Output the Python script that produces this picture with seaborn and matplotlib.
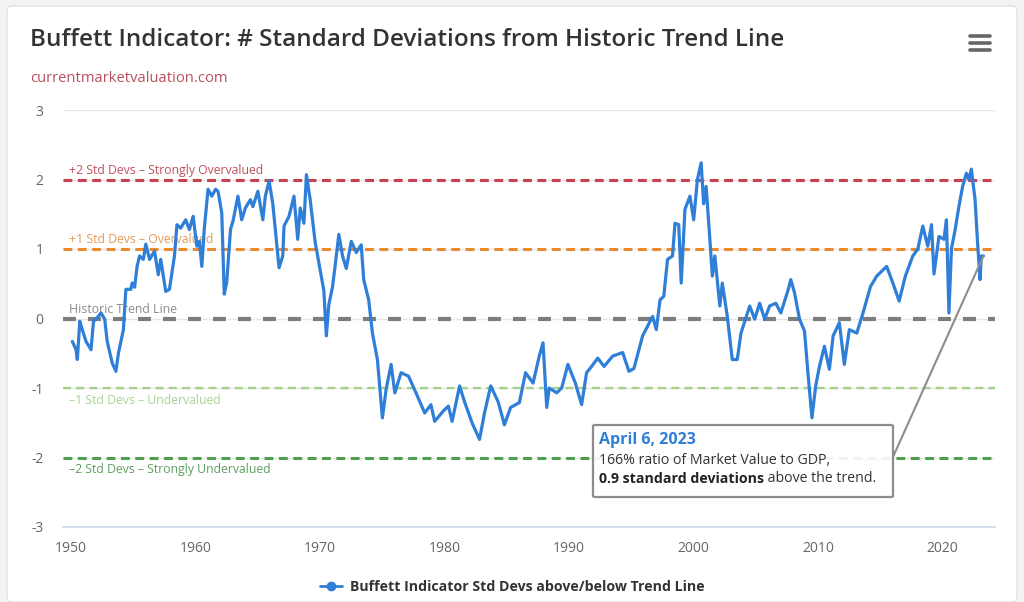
import numpy as np
import pandas as pd
import matplotlib
matplotlib.use("Agg")
import matplotlib.pyplot as plt
import seaborn as sns
from matplotlib.lines import Line2D
from matplotlib.patches import FancyBboxPatch

# values (year, std devs from trend)
years = [
    1950.1, 1950.4, 1950.5, 1950.7, 1950.9, 1951.2, 1951.6, 1951.8, 1952.0, 1952.4,
    1952.7, 1952.9, 1953.3, 1953.6, 1953.8, 1954.2, 1954.4, 1954.8, 1954.9, 1955.1,
    1955.3, 1955.5, 1955.8, 1956.0, 1956.3, 1956.7, 1957.0, 1957.2, 1957.6, 1957.9,
    1958.3, 1958.5, 1958.8, 1959.2, 1959.5, 1959.8, 1960.1, 1960.3, 1960.5, 1960.7,
    1961.0, 1961.3, 1961.6, 1961.8, 1962.1, 1962.3, 1962.5, 1962.8, 1963.0, 1963.4,
    1963.7, 1964.0, 1964.4, 1964.6, 1965.0, 1965.4, 1965.6, 1965.9, 1966.2, 1966.4,
    1966.7, 1967.0, 1967.1, 1967.5, 1967.9, 1968.2, 1968.4, 1968.7, 1968.9, 1969.2,
    1969.6, 1970.0, 1970.3, 1970.5, 1970.7, 1971.0, 1971.3, 1971.5, 1971.8, 1972.1,
    1972.5, 1972.9, 1973.3, 1973.5, 1973.9, 1974.2, 1974.6, 1975.0, 1975.3, 1975.7,
    1976.0, 1976.5, 1977.1, 1977.7, 1978.4, 1978.9, 1979.2, 1979.9, 1980.3, 1980.6,
    1981.2, 1981.6, 1982.2, 1982.8, 1983.2, 1983.7, 1984.3, 1984.8, 1985.3, 1986.0,
    1986.5, 1987.1, 1987.6, 1987.9, 1988.2, 1988.4, 1989.0, 1989.4, 1989.9, 1990.5,
    1991.0, 1991.4, 1991.8, 1992.3, 1992.8, 1993.5, 1994.3, 1994.8, 1995.2, 1995.9,
    1996.7, 1997.0, 1997.3, 1997.6, 1997.9, 1998.3, 1998.5, 1998.8, 1999.0, 1999.3,
    1999.7, 2000.0, 2000.3, 2000.6, 2000.8, 2001.0, 2001.3, 2001.5, 2001.7, 2002.1,
    2002.3, 2002.7, 2003.1, 2003.5, 2003.8, 2004.5, 2004.9, 2005.3, 2005.7, 2006.1,
    2006.6, 2007.0, 2007.6, 2007.8, 2008.1, 2008.5, 2008.9, 2009.2, 2009.5, 2009.8,
    2010.1, 2010.5, 2010.9, 2011.2, 2011.7, 2012.1, 2012.5, 2013.1, 2013.6, 2014.2,
    2014.7, 2015.5, 2016.0, 2016.5, 2017.0, 2017.6, 2018.0, 2018.4, 2018.8, 2019.1,
    2019.3, 2019.7, 2020.1, 2020.3, 2020.5, 2020.7, 2021.0, 2021.3, 2021.6, 2021.9,
    2022.1, 2022.3, 2022.6, 2022.8, 2023.0, 2023.1, 2023.27,
]
std_devs = [
    -0.33, -0.45, -0.59, -0.04, -0.16, -0.33, -0.45, -0.04, -0.01, 0.08,
    -0.01, -0.33, -0.64, -0.76, -0.50, -0.16, 0.42, 0.42, 0.51, 0.45,
    0.75, 0.90, 0.85, 1.07, 0.85, 0.97, 0.63, 0.85, 0.39, 0.42,
    0.90, 1.35, 1.30, 1.42, 1.28, 1.47, 1.04, 1.11, 0.75, 1.30,
    1.86, 1.76, 1.86, 1.83, 1.52, 0.35, 0.52, 1.28, 1.40, 1.76,
    1.42, 1.59, 1.71, 1.61, 1.83, 1.42, 1.76, 1.98, 1.65, 1.28,
    0.73, 0.90, 1.33, 1.47, 1.76, 1.14, 1.59, 1.37, 2.07, 1.71,
    1.10, 0.70, 0.40, -0.25, 0.20, 0.46, 0.90, 1.21, 0.90, 0.72,
    1.11, 0.95, 1.06, 0.56, 0.27, -0.21, -0.59, -1.43, -1.02, -0.66,
    -1.07, -0.78, -0.83, -1.07, -1.36, -1.24, -1.48, -1.33, -1.26, -1.48,
    -0.97, -1.20, -1.50, -1.74, -1.36, -0.97, -1.20, -1.53, -1.28, -1.21,
    -0.78, -0.93, -0.54, -0.35, -1.28, -1.00, -1.07, -1.00, -0.66, -0.93,
    -1.24, -0.78, -0.69, -0.57, -0.69, -0.54, -0.49, -0.76, -0.72, -0.25,
    0.03, -0.16, 0.27, 0.32, 0.85, 0.90, 1.37, 1.35, 0.51, 1.57,
    1.76, 1.42, 2.00, 2.24, 1.65, 1.90, 1.14, 0.61, 0.90, 0.18,
    0.51, 0.03, -0.59, -0.59, -0.21, 0.18, -0.01, 0.22, -0.01, 0.18,
    0.22, 0.08, 0.42, 0.56, 0.37, -0.01, -0.18, -0.83, -1.43, -0.97,
    -0.69, -0.40, -0.73, -0.25, -0.06, -0.66, -0.16, -0.21, 0.08, 0.46,
    0.61, 0.75, 0.51, 0.25, 0.61, 0.90, 1.00, 1.33, 1.04, 1.35,
    0.64, 1.18, 1.14, 1.42, 0.08, 1.00, 1.28, 1.61, 1.90, 2.09,
    2.00, 2.15, 1.71, 1.09, 0.56, 0.90, 0.90,
]

band_levels = [2, 1, 0, -1, -2]
band_labels = [
    "+2 Std Devs – Strongly Overvalued",
    "+1 Std Devs – Overvalued",
    "Historic Trend Line",
    "–1 Std Devs – Undervalued",
    "–2 Std Devs – Strongly Undervalued",
]
x_ticks = [1950, 1960, 1970, 1980, 1990, 2000, 2010, 2020]
y_ticks = [-3, -2, -1, 0, 1, 2, 3]
y_tick_labels = ["-3", "-2", "-1", "0", "1", "2", "3"]

tooltip_date = "April 6, 2023"
tooltip_ratio = "166% ratio of Market Value to GDP,"
tooltip_bold = "0.9 standard deviations"
tooltip_rest = " above the trend."

band_colors = ["#c9414d", "#ea8a2e", "#7d7d7d", "#a6d18a", "#4f9f4f"]
band_text_colors = ["#c0505a", "#e39a55", "#8a8a8a", "#a9d393", "#5e9f5e"]
band_widths = [2.2, 2.2, 3.0, 1.7, 2.2]
band_dashes = [(2.9, 1.8), (2.9, 1.8), (3.1, 2.9), (3.4, 2.2), (2.9, 1.8)]
line_color = "#2f7ed8"

df = pd.DataFrame({"year": years, "std": std_devs})

sns.set_theme(style="white")
plt.rcParams["font.family"] = ["Open Sans", "DejaVu Sans"]

fig = plt.figure(figsize=(10.24, 6.02), dpi=100)
fig.patch.set_facecolor("#f3f3f3")
W, H = 1024, 602

# white card
card = FancyBboxPatch((7 / W, 0), (1017 - 7) / W, (602 - 6) / H,
                      boxstyle="round,pad=0,rounding_size=0.006",
                      transform=fig.transFigure, facecolor="white",
                      edgecolor="#e2e2e2", lw=1.0, zorder=0)
fig.add_artist(card)

ax = fig.add_axes([63 / W, 1 - 527 / H, (995 - 63) / W, (527 - 110) / H])
ax.set_facecolor("none")

for lvl in y_ticks[1:]:
    ax.axhline(lvl, color="#e6e6e6", lw=1.0, zorder=1)

for lvl, lab, col, tcol, lw, ds in zip(band_levels, band_labels, band_colors,
                                         band_text_colors, band_widths, band_dashes):
    ax.axhline(lvl, color=col, lw=lw, dashes=ds, zorder=2)
    if lvl >= 0:
        ax.annotate(lab, xy=(0, lvl), xycoords=("axes fraction", "data"),
                    xytext=(4, 2), textcoords="offset points", ha="left", va="bottom",
                    fontsize=8.8, color=tcol, zorder=3)
    else:
        ax.annotate(lab, xy=(0, lvl), xycoords=("axes fraction", "data"),
                    xytext=(4, -4), textcoords="offset points", ha="left", va="top",
                    fontsize=8.8, color=tcol, zorder=3)

sns.lineplot(data=df, x="year", y="std", ax=ax, color=line_color, lw=2.3,
             zorder=4, legend=False)

ax.set_xlim(1949.35, 2024.2)
ax.set_ylim(-3, 3)
ax.set_xticks(x_ticks)
ax.set_xticklabels([str(x) for x in x_ticks])
ax.set_yticks(y_ticks)
ax.set_yticklabels(y_tick_labels)
ax.set_xlabel("")
ax.set_ylabel("")
ax.tick_params(axis="x", colors="#666666", labelsize=10, length=6, width=1,
               direction="out", pad=4)
ax.tick_params(axis="x", color="#ccd6eb")
ax.tick_params(axis="y", colors="#666666", labelsize=10, length=0, pad=14)
for side in ["top", "right", "left"]:
    ax.spines[side].set_visible(False)
ax.spines["bottom"].set_color("#ccd6eb")
ax.spines["bottom"].set_linewidth(1.2)

# title / subtitle
fig.text(30 / W, 1 - 40 / H, "Buffett Indicator: # Standard Deviations from Historic Trend Line",
         fontsize=17.5, color="#333333", ha="left", va="center", fontweight="semibold")
fig.text(30 / W, 1 - 78 / H, "currentmarketvaluation.com", fontsize=10.6,
         color="#b8505a", ha="left", va="center")

# menu icon
for yy in [36, 43, 49.5]:
    fig.add_artist(Line2D([970 / W, 990 / W], [1 - yy / H, 1 - yy / H],
                          color="#666666", lw=2.6, transform=fig.transFigure))

# legend
handle = Line2D([], [], color=line_color, lw=2, marker="o", markersize=6)
fig.legend([handle], ["Buffett Indicator Std Devs above/below Trend Line"],
           loc="center", bbox_to_anchor=(512 / W, 1 - 587 / H), frameon=False,
           prop={"size": 10.2, "weight": "bold"}, labelcolor="#333333",
           handlelength=1.6, handletextpad=0.5)

# tooltip
last_x, last_y = years[-1], std_devs[-1]
ax.annotate("", xy=(last_x, last_y), xycoords="data",
            xytext=(893 / W, 1 - 457 / H), textcoords="figure fraction",
            arrowprops=dict(arrowstyle="-", color="#8c8c8c", lw=1.5,
                            shrinkA=0, shrinkB=0), zorder=5)
box = FancyBboxPatch((593 / W, 1 - 497 / H), (893 - 593) / W, (497 - 425) / H,
                     boxstyle="round,pad=0,rounding_size=0.002",
                     transform=fig.transFigure, facecolor=(1, 1, 1, 0.9),
                     edgecolor="#8c8c8c", lw=1.6, zorder=6)
fig.add_artist(box)
fig.text(599 / W, 1 - 440 / H, tooltip_date, fontsize=11.5, color=line_color,
         fontweight="bold", ha="left", va="center", zorder=7)
fig.text(599 / W, 1 - 460 / H, tooltip_ratio, fontsize=10.2, color="#333333",
         ha="left", va="center", zorder=7)
bold_txt = fig.text(599 / W, 1 - 479 / H, tooltip_bold, fontsize=10.2, color="#222222",
                    fontweight="bold", ha="left", va="center", zorder=7)
fig.canvas.draw()
bb = bold_txt.get_window_extent(renderer=fig.canvas.get_renderer())
fig.text(bb.x1 / W, 1 - 479 / H, tooltip_rest, fontsize=10.2, color="#333333",
         ha="left", va="center", zorder=7)

fig.savefig("out.png", dpi=100, facecolor=fig.get_facecolor())
